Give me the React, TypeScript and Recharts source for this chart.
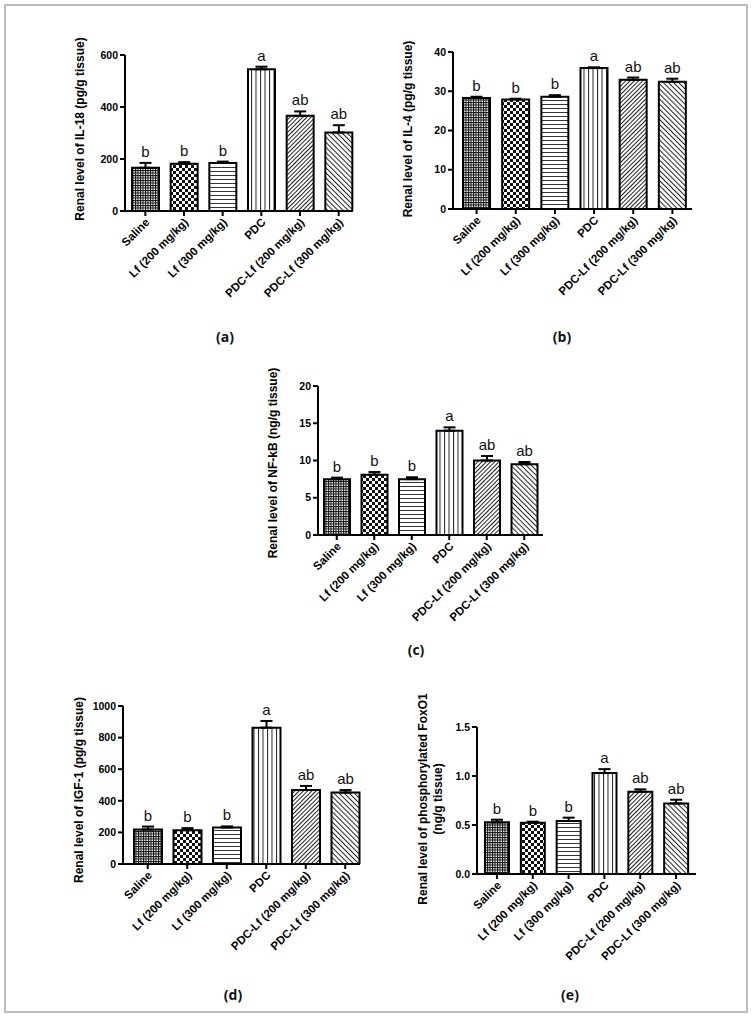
import React from "react";
import { Bar, BarChart, Cell, ErrorBar, LabelList, XAxis, YAxis } from "recharts";

// groups on the x axis, shared by all five panels
const groups = [
  "Saline",
  "Lf (200 mg/kg)",
  "Lf (300 mg/kg)",
  "PDC",
  "PDC-Lf (200 mg/kg)",
  "PDC-Lf (300 mg/kg)",
];
const letters = ["b", "b", "b", "a", "ab", "ab"];

// (a) IL-18, pg/g tissue
const il18Mean = [166, 182, 185, 545, 366, 302];
const il18Sem = [19, 6, 5, 10, 17, 28];
const il18Ticks = [0, 200, 400, 600];

// (b) IL-4, pg/g tissue
const il4Mean = [28.3, 27.9, 28.6, 35.9, 32.9, 32.4];
const il4Sem = [0.3, 0.2, 0.4, 0.2, 0.6, 0.8];
const il4Ticks = [0, 10, 20, 30, 40];

// (c) NF-kB, ng/g tissue
const nfkbMean = [7.5, 8.1, 7.5, 14.0, 10.0, 9.5];
const nfkbSem = [0.2, 0.35, 0.25, 0.45, 0.6, 0.3];
const nfkbTicks = [0, 5, 10, 15, 20];

// (d) IGF-1, pg/g tissue
const igf1Mean = [218, 214, 231, 863, 468, 452];
const igf1Sem = [19, 13, 7, 42, 26, 16];
const igf1Ticks = [0, 200, 400, 600, 800, 1000];

// (e) phosphorylated FoxO1, ng/g tissue
const foxo1Mean = [0.527, 0.524, 0.541, 1.03, 0.84, 0.72];
const foxo1Sem = [0.027, 0.01, 0.034, 0.04, 0.024, 0.038];
const foxo1Ticks = [0, 0.5, 1.0, 1.5];

const patternIds = ["pSaline", "pLf200", "pLf300", "pPdc", "pPdcLf200", "pPdcLf300"];

const FONT = "'Liberation Sans', Arial, sans-serif";

type Panel = {
  mean: number[];
  sem: number[];
  ticks: number[];
  fmt: (v: number) => string;
  x0: number;
  x1: number;
  y0: number;
  y1: number;
  padL: number;
  padR: number;
  barW: number;
  yLabel: string[];
  labelX: number[];
  labelY: number;
  tag: string;
  tagX: number;
  tagY: number;
};

const panels: Panel[] = [
  {
    mean: il18Mean, sem: il18Sem, ticks: il18Ticks, fmt: (v) => String(v),
    x0: 125, x1: 353, y0: 55, y1: 211, padL: 1, padR: -5, barW: 27,
    yLabel: ["Renal level of IL-18 (pg/g tissue)"], labelX: [80], labelY: 129,
    tag: "(a)", tagX: 225, tagY: 337,
  },
  {
    mean: il4Mean, sem: il4Sem, ticks: il4Ticks, fmt: (v) => String(v),
    x0: 453, x1: 692, y0: 52, y1: 209, padL: 4, padR: 0, barW: 27,
    yLabel: ["Renal level of IL-4 (pg/g tissue)"], labelX: [408], labelY: 129,
    tag: "(b)", tagX: 562, tagY: 337,
  },
  {
    mean: nfkbMean, sem: nfkbSem, ticks: nfkbTicks, fmt: (v) => String(v),
    x0: 318, x1: 543, y0: 386, y1: 535, padL: 0, padR: 0, barW: 26,
    yLabel: ["Renal level of NF-kB (ng/g tissue)"], labelX: [273], labelY: 463,
    tag: "(c)", tagX: 416, tagY: 650,
  },
  {
    mean: igf1Mean, sem: igf1Sem, ticks: igf1Ticks, fmt: (v) => String(v),
    x0: 123, x1: 360, y0: 706, y1: 864, padL: 5, padR: -5, barW: 28,
    yLabel: ["Renal level of IGF-1 (pg/g tissue)"], labelX: [79], labelY: 790,
    tag: "(d)", tagX: 233, tagY: 995,
  },
  {
    mean: foxo1Mean, sem: foxo1Sem, ticks: foxo1Ticks, fmt: (v) => v.toFixed(1),
    x0: 477, x1: 696, y0: 727, y1: 874, padL: 2, padR: 2, barW: 24,
    yLabel: ["Renal level of phosphorylated FoxO1", "(ng/g tissue)"], labelX: [423, 438], labelY: 799,
    tag: "(e)", tagX: 570, tagY: 995,
  },
];

const M_LEFT = 90;
const M_TOP = 40;
const X_H = 130;

function CategoryTick(props: any) {
  const { x, y, payload } = props;
  return (
    <g transform={`translate(${x + 5},${y + 5})`}>
      <text
        transform="rotate(-45)"
        textAnchor="end"
        fontFamily={FONT}
        fontWeight="bold"
        fontSize={11.5}
        fill="#000"
      >
        {payload.value}
      </text>
    </g>
  );
}

function PanelChart({ p }: { p: Panel }) {
  const data = groups.map((g, i) => ({
    group: g,
    mean: p.mean[i],
    err: [0, p.sem[i]],
    letter: letters[i],
  }));
  const plotW = p.x1 - p.x0;
  const plotH = p.y1 - p.y0;
  const left = p.x0 - M_LEFT;
  const top = p.y0 - M_TOP;

  // letter sits just above the error bar cap; cap height comes from the bar's own pixel scale
  const letterContent = (lp: any) => {
    const vb = lp.viewBox ?? lp;
    const i = lp.index;
    if (vb == null || i == null) return null;
    const perUnit = vb.height / p.mean[i];
    const errTop = vb.y - p.sem[i] * perUnit;
    return (
      <text
        x={vb.x + vb.width / 2}
        y={errTop - 6}
        textAnchor="middle"
        fontFamily={FONT}
        fontSize={15}
        fill="#111"
      >
        {letters[i]}
      </text>
    );
  };

  const yLabelContent = () => (
    <g>
      {p.yLabel.map((t, k) => {
        const lx = p.labelX[k] - left;
        const ly = p.labelY - top;
        return (
          <text
            key={k}
            x={lx}
            y={ly}
            transform={`rotate(-90 ${lx} ${ly})`}
            textAnchor="middle"
            dominantBaseline="central"
            fontFamily={FONT}
            fontWeight="bold"
            fontSize={12}
            fill="#000"
          >
            {t}
          </text>
        );
      })}
    </g>
  );

  return (
    <div style={{ position: "absolute", left, top }}>
      <BarChart
        width={M_LEFT + plotW + 20}
        height={M_TOP + plotH + X_H}
        data={data}
        margin={{ top: M_TOP, right: 20, bottom: 0, left: 0 }}
      >
        <XAxis
          dataKey="group"
          type="category"
          interval={0}
          height={X_H}
          padding={{ left: p.padL, right: p.padR }}
          axisLine={{ stroke: "#000", strokeWidth: 2 }}
          tickLine={{ stroke: "#000", strokeWidth: 2 }}
          tickSize={5}
          tick={<CategoryTick />}
        />
        <YAxis
          width={M_LEFT}
          type="number"
          domain={[p.ticks[0], p.ticks[p.ticks.length - 1]]}
          allowDataOverflow
          ticks={p.ticks}
          interval={0}
          tickFormatter={p.fmt}
          axisLine={{ stroke: "#000", strokeWidth: 2 }}
          tickLine={{ stroke: "#000", strokeWidth: 2 }}
          tickSize={5}
          tickMargin={2}
          tick={{ fontFamily: FONT, fontWeight: "bold", fontSize: 10.5, fill: "#000" }}
          label={{ content: yLabelContent }}
        />
        <Bar
          dataKey="mean"
          barSize={p.barW}
          stroke="#000"
          strokeWidth={2}
          isAnimationActive={false}
        >
          {data.map((d, i) => (
            <Cell key={d.group} fill={`url(#${patternIds[i]})`} />
          ))}
          <ErrorBar dataKey="err" direction="y" width={6} stroke="#000" strokeWidth={2} />
          <LabelList dataKey="letter" content={letterContent} />
        </Bar>
      </BarChart>
      <div
        style={{
          position: "absolute",
          left: p.tagX - left - 30,
          top: p.tagY - top - 10,
          width: 60,
          textAlign: "center",
          fontFamily: "'Open Sans', sans-serif",
          fontWeight: 700,
          fontSize: 14,
          lineHeight: "20px",
          color: "#111",
        }}
      >
        {p.tag}
      </div>
    </div>
  );
}

function Patterns() {
  return (
    <svg width={0} height={0} style={{ position: "absolute" }}>
      <defs>
        <pattern id="pSaline" width={2.5} height={2.5} patternUnits="userSpaceOnUse">
          <rect width={2.5} height={2.5} fill="#fff" />
          <path d="M0 0.5H2.5M0.5 0V2.5" stroke="#111" strokeWidth={1} />
        </pattern>
        <pattern id="pLf200" width={6} height={6} patternUnits="userSpaceOnUse">
          <rect width={6} height={6} fill="#fff" />
          <rect x={0} y={0} width={3} height={3} fill="#111" />
          <rect x={3} y={3} width={3} height={3} fill="#111" />
        </pattern>
        <pattern id="pLf300" width={4} height={4} patternUnits="userSpaceOnUse">
          <rect width={4} height={4} fill="#fff" />
          <path d="M0 0.5H4" stroke="#333" strokeWidth={1} />
        </pattern>
        <pattern id="pPdc" width={4.5} height={4} patternUnits="userSpaceOnUse">
          <rect width={4.5} height={4} fill="#fff" />
          <path d="M0.5 0V4" stroke="#222" strokeWidth={1} />
        </pattern>
        <pattern id="pPdcLf200" width={3} height={3} patternUnits="userSpaceOnUse" patternTransform="rotate(45)">
          <rect width={3} height={3} fill="#fff" />
          <path d="M0.5 0V3" stroke="#222" strokeWidth={1} />
        </pattern>
        <pattern id="pPdcLf300" width={3.6} height={3.6} patternUnits="userSpaceOnUse" patternTransform="rotate(-45)">
          <rect width={3.6} height={3.6} fill="#fff" />
          <path d="M0.5 0V3.6" stroke="#222" strokeWidth={1} />
        </pattern>
      </defs>
    </svg>
  );
}

export default function App() {
  return (
    <div style={{ position: "absolute", left: 0, top: 0, width: 754, height: 1019, background: "#fff" }}>
      <Patterns />
      <div
        style={{
          position: "absolute",
          left: 4,
          top: 4,
          width: 744,
          height: 1009,
          border: "2px solid #bdbdbd",
          boxSizing: "border-box",
        }}
      />
      {panels.map((p) => (
        <PanelChart key={p.tag} p={p} />
      ))}
    </div>
  );
}
